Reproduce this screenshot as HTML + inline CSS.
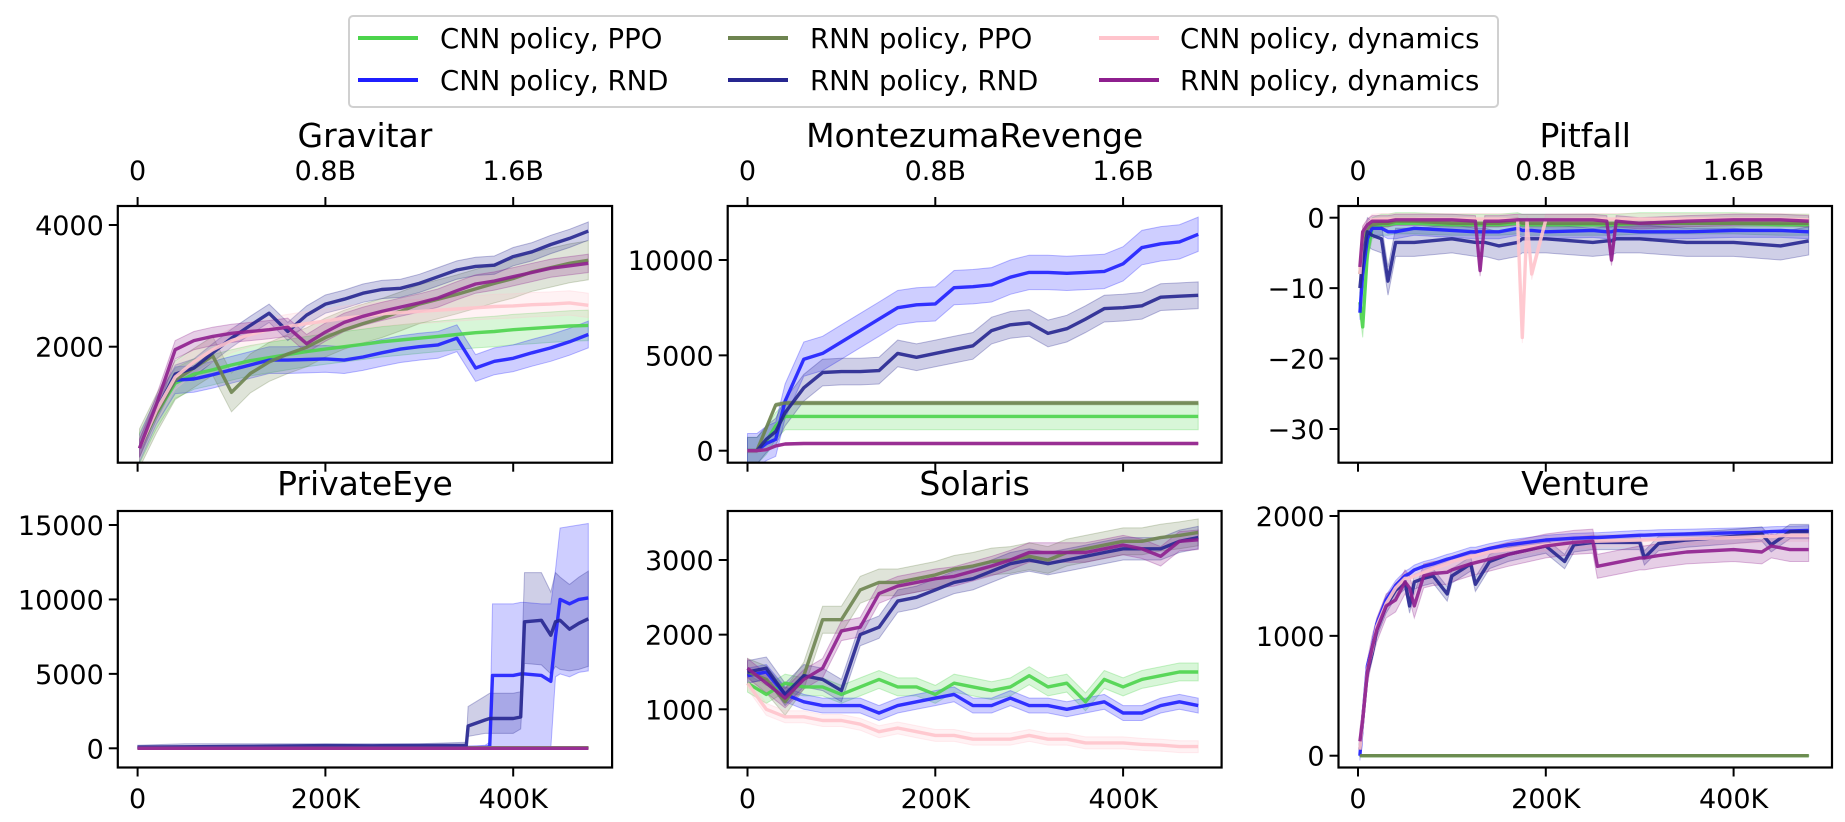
<!DOCTYPE html>
<html><head><meta charset="utf-8"><style>
html,body{margin:0;padding:0;background:#fff;}
svg{display:block;font-family:"DejaVu Sans","Liberation Sans",sans-serif;}
</style></head><body>
<svg id="fig" width="1845" height="822" viewBox="0 0 1845 822" xmlns="http://www.w3.org/2000/svg">
<g>
<rect x="349" y="16" width="1149" height="91" rx="4" fill="#fff" stroke="#d0d0d0" stroke-width="2"/>
<g><line x1="358" y1="38" x2="418" y2="38" stroke="#4cd44c" stroke-width="4"/><text x="440" y="48" font-size="27.5">CNN policy, PPO</text></g>
<g><line x1="358" y1="80" x2="418" y2="80" stroke="#1f1fff" stroke-width="4"/><text x="440" y="90" font-size="27.5">CNN policy, RND</text></g>
<g><line x1="728" y1="38" x2="788" y2="38" stroke="#6e8450" stroke-width="4"/><text x="810" y="48" font-size="27.5">RNN policy, PPO</text></g>
<g><line x1="728" y1="80" x2="788" y2="80" stroke="#262690" stroke-width="4"/><text x="810" y="90" font-size="27.5">RNN policy, RND</text></g>
<g><line x1="1099" y1="38" x2="1159" y2="38" stroke="#ffc4cc" stroke-width="4"/><text x="1180" y="48" font-size="27.5">CNN policy, dynamics</text></g>
<g><line x1="1099" y1="80" x2="1159" y2="80" stroke="#8e1f8e" stroke-width="4"/><text x="1180" y="90" font-size="27.5">RNN policy, dynamics</text></g>
</g>
</svg>
<script>
// ---------- Gravitar ----------
const gravX = [2,20,40,60,80,100,120,140,160,180,200,220,240,260,280,300,320,340,360,380,400,420,440,460,480];
const gravCnnPpo = [330,900,1400,1550,1620,1700,1770,1820,1870,1920,1960,2000,2040,2080,2110,2140,2170,2200,2230,2250,2280,2300,2320,2340,2350];
const gravCnnRnd = [330,950,1450,1470,1540,1620,1700,1780,1780,1790,1800,1780,1830,1900,1960,2000,2030,2140,1650,1760,1810,1900,1980,2080,2200];
const gravRnnPpo = [330,900,1450,1650,1850,1250,1560,1750,1880,1990,2150,2280,2380,2470,2580,2700,2780,2860,2950,3040,3120,3230,3300,3370,3420];
const gravRnnRnd = [330,950,1550,1650,1900,2140,2350,2550,2250,2520,2700,2780,2880,2940,2960,3040,3150,3260,3320,3340,3480,3560,3680,3780,3900];
const gravCnnDyn = [330,950,1500,1750,1950,2100,2200,2280,2330,2380,2420,2470,2500,2540,2560,2580,2600,2620,2640,2660,2670,2690,2700,2720,2680];
const gravRnnDyn = [330,1050,1950,2100,2170,2220,2250,2280,2320,2050,2240,2400,2500,2580,2650,2720,2800,2920,3030,3080,3150,3220,3290,3330,3370];
const gravSpread = [250,220,320,150,200,150];
// ---------- MontezumaRevenge ----------
const monX = [0,10,20,30,40,60,80,100,120,140,160,180,200,220,240,260,280,300,320,340,360,380,400,420,440,460,480];
const monCnnPpo = [0,0,500,1300,1800,1800,1800,1800,1800,1800,1800,1800,1800,1800,1800,1800,1800,1800,1800,1800,1800,1800,1800,1800,1800,1800,1800];
const monCnnRnd = [0,0,380,600,2600,4800,5100,5700,6300,6900,7500,7650,7700,8550,8600,8700,9100,9350,9350,9300,9350,9400,9800,10650,10850,10950,11350];
const monRnnPpo = [0,0,1200,2400,2500,2500,2500,2500,2500,2500,2500,2500,2500,2500,2500,2500,2500,2500,2500,2500,2500,2500,2500,2500,2500,2500,2500];
const monRnnRnd = [0,0,600,1000,2000,3300,4100,4150,4150,4200,5100,4900,5100,5300,5500,6300,6600,6700,6150,6400,6900,7450,7500,7600,8050,8100,8150];
const monCnnDyn = [0,0,50,250,350,380,380,380,380,380,380,380,380,380,380,380,380,380,380,380,380,380,380,380,380,380,380];
const monRnnDyn = [0,0,50,250,350,380,380,380,380,380,380,380,380,380,380,380,380,380,380,380,380,380,380,380,380,380,380];
const monSpread = [700,900,100,700,30,30];
// ---------- Pitfall ----------
const pitX = [2,5,10,15,25,32,40,60,100,125,130,135,150,170,175,180,185,200,250,265,270,275,300,350,400,450,480];
const pitCnnPpo = [-12,-15.5,-5,-1.5,-1,-1,-0.8,-0.8,-1,-1,-1,-1,-1,-0.8,-1,-1,-1,-1,-1,-1,-1,-1,-0.8,-0.8,-0.8,-1,-1];
const pitCnnRnd = [-13.5,-8,-3,-1.5,-1.5,-2,-2,-1.5,-1.8,-2,-2,-2,-2,-1.5,-1.8,-1.8,-1.8,-2,-1.8,-2,-2,-1.8,-2,-2,-1.8,-1.8,-2];
const pitRnnPpo = [-8,-3,-1.5,-1,-0.8,-0.8,-0.5,-0.5,-0.8,-0.8,-0.8,-0.8,-0.8,-0.5,-0.8,-0.8,-0.8,-0.8,-0.8,-0.8,-0.8,-0.8,-0.8,-0.8,-0.8,-0.8,-0.8];
const pitRnnRnd = [-10,-6,-2,-2.5,-3,-9,-3.5,-3.5,-3,-3.5,-3.5,-3.5,-4,-3.5,-3,-3,-3,-3,-3.5,-3.3,-3.3,-3,-3,-3.5,-3.5,-4,-3.3];
const pitCnnDyn = [-8,-2,-1,-0.3,-0.2,-0.2,-0.2,-0.2,-0.2,-0.2,-0.2,-0.2,-0.2,-0.3,-17,-0.5,-8,-0.3,-0.2,-0.2,-0.2,-0.2,-0.2,-0.2,-0.2,-0.2,-0.3];
const pitRnnDyn = [-7,-2,-1,-0.5,-0.5,-0.5,-0.3,-0.3,-0.3,-0.5,-7.5,-0.5,-0.5,-0.3,-0.3,-0.3,-0.3,-0.3,-0.3,-0.5,-6,-0.5,-0.8,-0.5,-0.3,-0.3,-0.5];
const pitSpread = [1.5,1,0.5,2,0.8,0.8];
// ---------- PrivateEye ----------
const peX = [0,50,100,150,200,250,300,350,352,370,375,378,400,408,412,430,440,445,450,460,470,480];
const peCnnPpo = [20,30,30,30,40,40,40,40,40,40,40,40,40,40,40,40,40,40,40,40,40,40];
const peCnnRnd = [20,30,40,50,60,60,60,60,60,60,100,4900,4900,5000,5000,4900,4500,7500,10000,9700,10000,10100];
const peRnnPpo = [20,30,30,30,40,40,40,40,40,40,40,40,40,40,40,40,40,40,40,40,40,40];
const peRnnRnd = [80,100,120,150,180,170,190,200,1500,1900,2000,2000,2000,2100,8500,8600,7600,8500,8600,8000,8400,8700];
const peCnnDyn = [0,0,0,0,0,0,0,0,0,0,0,0,0,0,0,0,0,0,0,0,0,0];
const peRnnDyn = [0,0,0,0,0,0,0,0,0,0,0,0,0,0,0,0,0,0,0,0,0,0];
const peRnnRndLo = [0,0,0,0,0,0,0,0,800,1000,1000,1000,1000,1300,5700,5600,5000,5500,5300,5200,5300,5500];
const peRnnRndHi = [200,300,300,300,300,300,300,400,2800,3500,3700,3700,3700,3800,11800,11800,10500,11800,11500,11000,11500,11900];
const peCnnRndLo = [0,0,0,0,0,0,0,0,0,0,0,0,0,0,0,0,0,4800,5000,4800,5100,5200];
const peCnnRndHi = [100,100,100,100,100,100,100,100,100,200,400,9700,9700,9800,9800,9700,9700,12000,14800,14900,15000,15100];
const peSpread = [50,50,50,50,80,60];
// ---------- Solaris ----------
const solX = [0,20,40,60,80,100,120,140,160,180,200,220,240,260,280,300,320,340,360,380,400,420,440,460,480];
const solCnnPpo = [1350,1200,1350,1300,1300,1200,1300,1400,1300,1300,1200,1350,1300,1250,1300,1450,1300,1350,1100,1400,1300,1400,1450,1500,1500];
const solCnnRnd = [1450,1500,1200,1100,1050,1050,1050,950,1050,1100,1150,1200,1050,1050,1150,1050,1050,1000,1050,1100,950,950,1050,1100,1050];
const solRnnPpo = [1500,1400,1100,1450,2200,2200,2600,2700,2700,2750,2800,2880,2920,2980,3000,3050,3000,3100,3150,3200,3250,3250,3300,3330,3370];
const solRnnRnd = [1500,1550,1200,1450,1400,1250,2000,2100,2450,2500,2600,2700,2750,2850,2950,3000,2950,3000,3050,3100,3150,3150,3150,3250,3300];
const solCnnDyn = [1350,1000,900,900,850,850,800,700,750,700,650,650,600,600,600,650,600,600,550,550,550,530,520,500,500];
const solRnnDyn = [1550,1350,1150,1400,1550,2050,2100,2550,2650,2700,2750,2780,2850,2920,3000,3100,3100,3100,3100,3150,3200,3150,3050,3250,3270];
const solSpread = [120,100,180,150,80,130];
// ---------- Venture ----------
const venX = [2,5,10,15,20,30,40,50,55,60,70,80,95,100,120,125,140,160,200,220,230,250,255,300,305,320,350,400,430,440,460,480];
const venCnnPpo = [0,0,0,0,0,0,0,0,0,0,0,0,0,0,0,0,0,0,0,0,0,0,0,0,0,0,0,0,0,0,0,0];
const venCnnRnd = [0,300,750,900,1100,1300,1420,1500,1520,1550,1580,1600,1640,1650,1700,1700,1730,1760,1800,1810,1815,1820,1820,1840,1840,1845,1850,1860,1865,1870,1875,1880];
const venRnnPpo = [0,0,0,0,0,0,0,0,0,0,0,0,0,0,0,0,0,0,0,0,0,0,0,0,0,0,0,0,0,0,0,0];
const venRnnRnd = [50,300,700,850,1050,1250,1380,1450,1250,1450,1480,1500,1350,1500,1600,1430,1620,1680,1750,1620,1760,1780,1780,1780,1650,1770,1800,1830,1850,1760,1870,1870];
const venCnnDyn = [50,300,720,880,1080,1270,1400,1480,1480,1500,1530,1560,1600,1620,1660,1670,1700,1720,1760,1770,1780,1790,1790,1800,1800,1805,1810,1820,1830,1830,1840,1840];
const venRnnDyn = [120,300,700,900,1050,1250,1300,1450,1400,1250,1500,1520,1530,1550,1600,1610,1640,1680,1750,1770,1780,1790,1580,1650,1650,1670,1700,1720,1700,1750,1720,1720];
const venSpread = [5,40,5,60,50,100];

const seriesNames = ['cnn-ppo','cnn-rnd','rnn-ppo','rnn-rnd','cnn-dynamics','rnn-dynamics'];
const colors = ['#4cd44c','#1f1fff','#6e8450','#262690','#ffc4cc','#8e1f8e'];
const bottomTickVals = [0,200,400];
const bottomTickLabels = ['0','200K','400K'];
const topTickLabels = ['0','0.8B','1.6B'];

const NS = 'http://www.w3.org/2000/svg';
const svg = document.getElementById('fig');
function mk(tag, attrs, parent){ const e=document.createElementNS(NS,tag); for(const k in attrs) e.setAttribute(k,attrs[k]); parent.appendChild(e); return e; }

const cols = [{l:117.8,r:612.1,x0:137.6},{l:727.7,r:1221.6,x0:747.5},{l:1338.5,r:1832,x0:1358}];
const rows = [{t:206,b:462.7,title:135},{t:511,b:767.5,title:483}];
const PXK = 187.8/200;
const TICKFS = 27;

const panels = [
 {name:'gravitar',title:'Gravitar',c:0,r:0,xs:gravX,ys:[gravCnnPpo,gravCnnRnd,gravRnnPpo,gravRnnRnd,gravCnnDyn,gravRnnDyn],sp:gravSpread,ya:[4000,225,2000,346.7],yt:[2000,4000],yl:['2000','4000']},
 {name:'montezuma-revenge',title:'MontezumaRevenge',c:1,r:0,xs:monX,ys:[monCnnPpo,monCnnRnd,monRnnPpo,monRnnRnd,monCnnDyn,monRnnDyn],sp:monSpread,ya:[10000,260,0,450.7],yt:[0,5000,10000],yl:['0','5000','10000']},
 {name:'pitfall',title:'Pitfall',c:2,r:0,xs:pitX,ys:[pitCnnPpo,pitCnnRnd,pitRnnPpo,pitRnnRnd,pitCnnDyn,pitRnnDyn],sp:pitSpread,ya:[0,217.7,-30,429],yt:[0,-10,-20,-30],yl:['0','\u221210','\u221220','\u221230']},
 {name:'private-eye',title:'PrivateEye',c:0,r:1,xs:peX,ys:[peCnnPpo,peCnnRnd,peRnnPpo,peRnnRnd,peCnnDyn,peRnnDyn],sp:peSpread,ya:[15000,525,0,748.3],yt:[0,5000,10000,15000],yl:['0','5000','10000','15000'],bands:{1:[peCnnRndLo,peCnnRndHi],3:[peRnnRndLo,peRnnRndHi]}},
 {name:'solaris',title:'Solaris',c:1,r:1,xs:solX,ys:[solCnnPpo,solCnnRnd,solRnnPpo,solRnnRnd,solCnnDyn,solRnnDyn],sp:solSpread,ya:[3000,560,1000,709.3],yt:[1000,2000,3000],yl:['1000','2000','3000']},
 {name:'venture',title:'Venture',c:2,r:1,xs:venX,ys:[venCnnPpo,venCnnRnd,venRnnPpo,venRnnRnd,venCnnDyn,venRnnDyn],sp:venSpread,ya:[2000,516,0,755.7],yt:[0,1000,2000],yl:['0','1000','2000']}
];

panels.forEach(p=>{
  const C=cols[p.c], R=rows[p.r];
  const xf = v => C.x0 + v*PXK;
  const yf = v => p.ya[1] + (v-p.ya[0])*(p.ya[3]-p.ya[1])/(p.ya[2]-p.ya[0]);
  const g = mk('g',{},svg);
  
  
  const cid='clip-'+p.name;
  const cp = mk('clipPath',{id:cid},g);
  mk('rect',{x:C.l,y:R.t,width:C.r-C.l,height:R.b-R.t},cp);
  const plot = mk('g',{'clip-path':'url(#'+cid+')'},g);
  
  
  p.ys.forEach((ys,i)=>{
    let lo, hi;
    if(p.bands && p.bands[i]){ lo=p.bands[i][0]; hi=p.bands[i][1]; }
    else { lo=ys.map(v=>v-p.sp[i]); hi=ys.map(v=>v+p.sp[i]); }
    let d='M'+p.xs.map((x,k)=>xf(x).toFixed(1)+','+yf(hi[k]).toFixed(1)).join('L');
    d+='L'+p.xs.map((x,k)=>[x,k]).reverse().map(([x,k])=>xf(x).toFixed(1)+','+yf(lo[k]).toFixed(1)).join('L')+'Z';
    const b = mk('path',{d:d,fill:colors[i],'fill-opacity':0.22,stroke:colors[i],'stroke-opacity':0.3,'stroke-width':1},plot);
    
    
  });
  p.ys.forEach((ys,i)=>{
    const d='M'+p.xs.map((x,k)=>xf(x).toFixed(1)+','+yf(ys[k]).toFixed(1)).join('L');
    const l = mk('path',{d:d,fill:'none',stroke:colors[i],'stroke-width':3.4,'stroke-linejoin':'round','stroke-opacity':0.9},plot);
    
    
  });
  const fr = mk('rect',{x:C.l,y:R.t,width:C.r-C.l,height:R.b-R.t,fill:'none',stroke:'#000','stroke-width':2.2},g);
  
  
  const tt = mk('text',{x:(C.l+C.r)/2,y:R.title+12,'text-anchor':'middle','font-size':33},g);
  tt.textContent=p.title;
  
  
  p.yt.forEach((v,k)=>{
    const y=yf(v);
    const tk = mk('line',{x1:C.l-9,x2:C.l,y1:y,y2:y,stroke:'#000','stroke-width':2},g);
    
    
    const tl = mk('text',{x:C.l-14,y:y+10,'text-anchor':'end','font-size':TICKFS},g);
    tl.textContent=p.yl[k];
    
    
  });
  bottomTickVals.forEach((v,k)=>{
    const x=xf(v);
    const bt = mk('line',{x1:x,x2:x,y1:R.b,y2:R.b+9,stroke:'#000','stroke-width':2},g);
    
    
    if(p.r===1){
      const bl = mk('text',{x:x,y:808,'text-anchor':'middle','font-size':TICKFS},g);
      bl.textContent=bottomTickLabels[k];
      
      
    } else {
      const tp = mk('line',{x1:x,x2:x,y1:R.t-9,y2:R.t,stroke:'#000','stroke-width':2},g);
      
      
      const tl2 = mk('text',{x:x,y:180,'text-anchor':'middle','font-size':TICKFS},g);
      tl2.textContent=topTickLabels[k];
      
      
    }
  });
});
</script>
</body></html>
